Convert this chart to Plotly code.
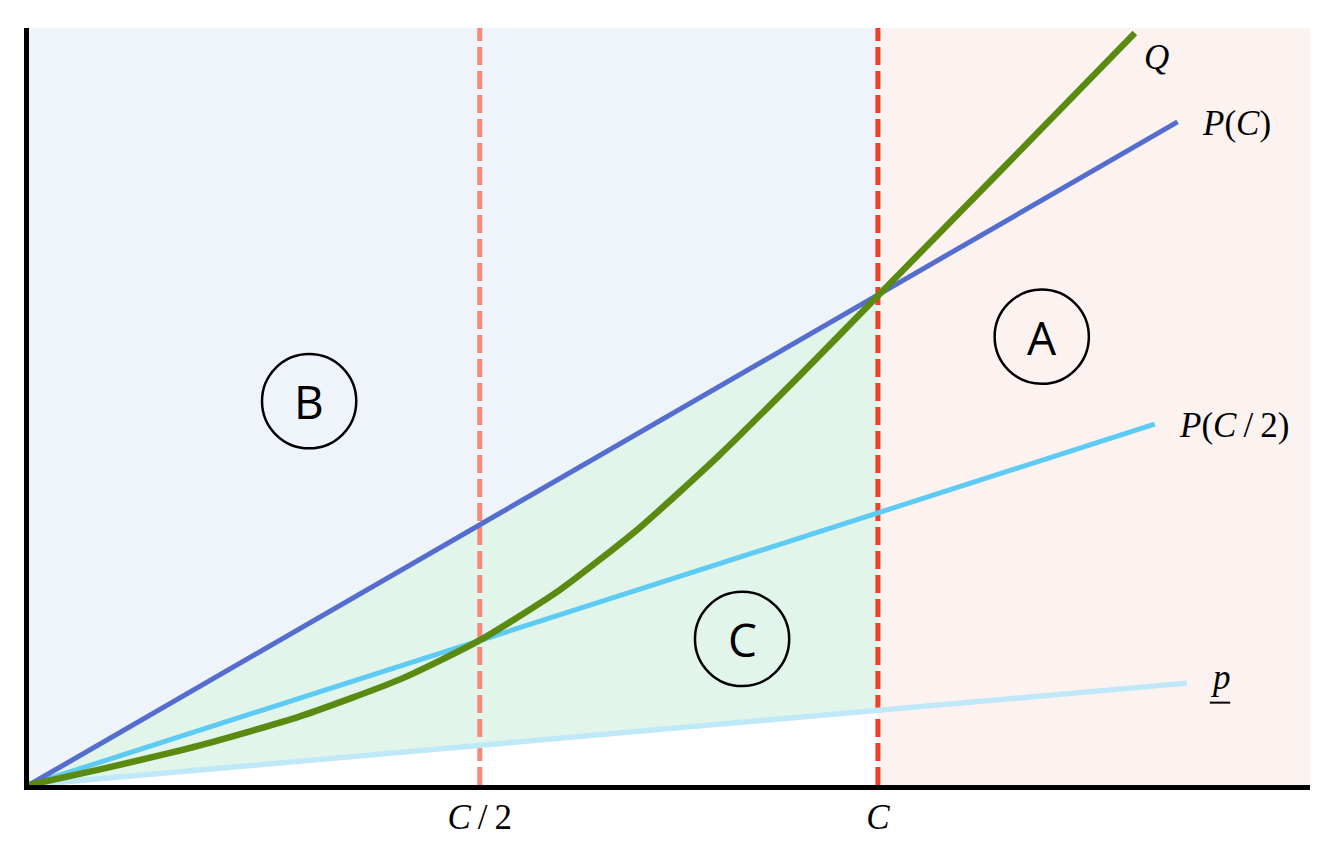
import numpy as np
import plotly.graph_objects as go

# ---- data (x in units where C = 1) ----
C_HALF = 0.531
C_FULL = 1.0
X_MAX = 1.509
Y_MAX = 0.8916

tick_vals = [C_HALF, C_FULL]
tick_text = ["<i>C</i>\u2009/\u20092", "<i>C</i>"]

pc_x = [0.0, 1.0, 1.353]
pc_y = [0.0, 0.577, 0.781]

pc2_x = [0.0, 1.0, 1.326]
pc2_y = [0.0, 0.3206, 0.425]

p_x = [0.0, 1.0, 1.364]
p_y = [0.0, 0.0881, 0.120]

q_x = [0.0, 0.0836, 0.2014, 0.3192, 0.4370, 0.5312, 0.6254, 0.7197,
       0.8139, 0.9081, 1.0, 1.1437, 1.3027]
q_y = [0.0, 0.0184, 0.0466, 0.0808, 0.1244, 0.1706, 0.2299, 0.3034,
       0.3892, 0.4825, 0.5762, 0.7227, 0.8857]

region_labels = ["A", "B", "C"]
region_x = [1.193, 0.330, 0.840]
region_y = [0.528, 0.452, 0.172]
region_r = 0.0555

# ---- colours ----
COL_PC = "#546dcf"
COL_PC2 = "#5ecbf5"
COL_P = "#bfe9f8"
COL_Q = "#5a8b10"
COL_CH = "#f58a7b"
COL_C = "#ee4027"
BG_BLUE = "#eff3fa"
BG_PINK = "#fcf3f1"
BG_GREEN = "#e1f5ea"

pc_at_c = float(np.interp(C_FULL, pc_x, pc_y))
p_at_c = float(np.interp(C_FULL, p_x, p_y))

fig = go.Figure()

# blue region (above P(C), left of C)
fig.add_trace(go.Scatter(
    x=[0, 0, C_FULL, C_FULL], y=[Y_MAX, 0, pc_at_c, Y_MAX],
    fill="toself", fillcolor=BG_BLUE, mode="lines", line=dict(width=0),
    hoverinfo="skip"))
# pink region (right of C)
fig.add_trace(go.Scatter(
    x=[C_FULL, C_FULL, X_MAX, X_MAX], y=[0, Y_MAX, Y_MAX, 0],
    fill="toself", fillcolor=BG_PINK, mode="lines", line=dict(width=0),
    hoverinfo="skip"))
# green region between P(C) and p, left of C
fig.add_trace(go.Scatter(
    x=[0, C_FULL, C_FULL, 0], y=[0, pc_at_c, p_at_c, 0],
    fill="toself", fillcolor=BG_GREEN, mode="lines", line=dict(width=0),
    hoverinfo="skip"))

# dashed verticals
fig.add_trace(go.Scatter(x=[C_HALF, C_HALF], y=[0, Y_MAX], mode="lines",
                         line=dict(color=COL_CH, width=5, dash="18px,6px"),
                         hoverinfo="skip"))
fig.add_trace(go.Scatter(x=[C_FULL, C_FULL], y=[0, Y_MAX], mode="lines",
                         line=dict(color=COL_C, width=5, dash="18px,6px"),
                         hoverinfo="skip"))

# lines
fig.add_trace(go.Scatter(x=p_x, y=p_y, mode="lines",
                         line=dict(color=COL_P, width=5.5), hoverinfo="skip"))
fig.add_trace(go.Scatter(x=pc2_x, y=pc2_y, mode="lines",
                         line=dict(color=COL_PC2, width=5), hoverinfo="skip"))
fig.add_trace(go.Scatter(x=pc_x, y=pc_y, mode="lines",
                         line=dict(color=COL_PC, width=5), hoverinfo="skip"))
fig.add_trace(go.Scatter(x=q_x, y=q_y, mode="lines", line_shape="spline",
                         line=dict(color=COL_Q, width=6.5, smoothing=0.6),
                         hoverinfo="skip"))

MATH_FONT = dict(family="Liberation Serif", size=35, color="black")

annotations = [
    dict(x=q_x[-1] + 0.008, y=0.857, text="<i>Q</i>", xanchor="left", yanchor="middle",
         showarrow=False, font=MATH_FONT),
    dict(x=pc_x[-1] + 0.026, y=0.779, text="<i>P</i>(<i>C</i>)", xanchor="left", yanchor="middle",
         showarrow=False, font=MATH_FONT),
    dict(x=pc2_x[-1] + 0.026, y=0.424, text="<i>P</i>(<i>C</i>\u2009/\u20092)", xanchor="left",
         yanchor="middle", showarrow=False, font=MATH_FONT),
    dict(x=p_x[-1] + 0.025, y=0.127, text="<i>p</i>", xanchor="left", yanchor="middle",
         showarrow=False, font=MATH_FONT),
]
shapes = [
    dict(type="line", xref="x", yref="y", x0=p_x[-1] + 0.027, x1=p_x[-1] + 0.051,
         y0=0.097, y1=0.097, line=dict(color="black", width=2)),
]
for lab, cx, cy in zip(region_labels, region_x, region_y):
    shapes.append(dict(type="circle", xref="x", yref="y",
                       x0=cx - region_r, x1=cx + region_r,
                       y0=cy - region_r, y1=cy + region_r,
                       line=dict(color="black", width=2.5)))
    annotations.append(dict(x=cx, y=cy, text=lab, showarrow=False,
                            xanchor="center", yanchor="middle",
                            font=dict(family="Open Sans", size=46, color="black")))

fig.update_layout(
    width=1319, height=836,
    margin=dict(l=21, r=17, t=20, b=59, autoexpand=False),
    paper_bgcolor="white", plot_bgcolor="white",
    showlegend=False,
    annotations=annotations, shapes=shapes,
    xaxis=dict(range=[0, X_MAX], showgrid=False, zeroline=False,
               showline=True, linecolor="black", linewidth=5,
               tickvals=tick_vals, ticktext=tick_text, ticks="",
               tickfont=MATH_FONT, ticklabelstandoff=-3, automargin=False,
               fixedrange=True),
    yaxis=dict(range=[0, Y_MAX], showgrid=False, zeroline=False,
               showline=True, linecolor="black", linewidth=5,
               showticklabels=False, ticks="", automargin=False,
               fixedrange=True),
)

fig.write_html("out.html", config={"displayModeBar": False})
